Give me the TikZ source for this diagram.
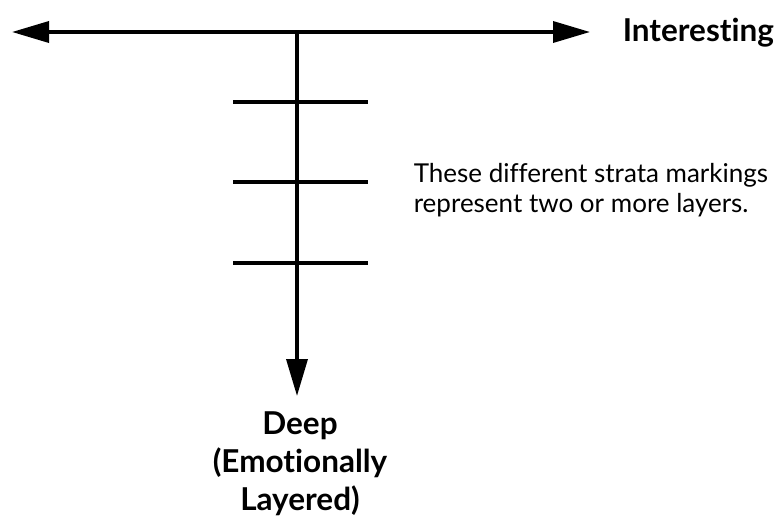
\documentclass[tikz,border=0pt]{standalone}
\usepackage{fontspec}
\setmainfont{Lato}[Ligatures=NoCommon]
\usetikzlibrary{arrows.meta, positioning}

\begin{document}
\begin{tikzpicture}[x=1pt, y=-1pt, line width=3.6pt,
    axis/.style={-{Triangle[length=37pt, width=21pt]}},
    stratum/.style={line width=3.4pt},
    label/.style={font=\fontsize{31.5}{38}\selectfont\bfseries, align=center, inner sep=0pt},
    note/.style={font=\fontsize{26}{30}\selectfont, align=left, inner sep=0pt}]
    \useasboundingbox (0,0) rectangle (776,519);

    \coordinate (o) at (297,32);
    \coordinate (l) at (12,32);
    \coordinate (r) at (590,32);
    \coordinate (d) at (297,396);

    % axes
    \draw[axis] (o) -- (l);
    \draw[axis] (o) -- (r);
    \draw[axis] (o) -- (d);

    % strata markings
    \foreach \y/\n in {102/a, 182/b, 263/c} {
        \coordinate (s\n l) at (233,\y);
        \coordinate (s\n r) at (368,\y);
        \draw[stratum] (s\n l) -- (s\n r);
    }

    \node[label, anchor=base west] (int) at (621,42) {Interesting};
    \node[label, anchor=base] (deep) at (300,510) {Deep\\(Emotionally\\Layered)};
    \node[note, anchor=base west] (strata) at (412,212)
        {These different strata markings\\represent two or more layers.};
\end{tikzpicture}
\end{document}
